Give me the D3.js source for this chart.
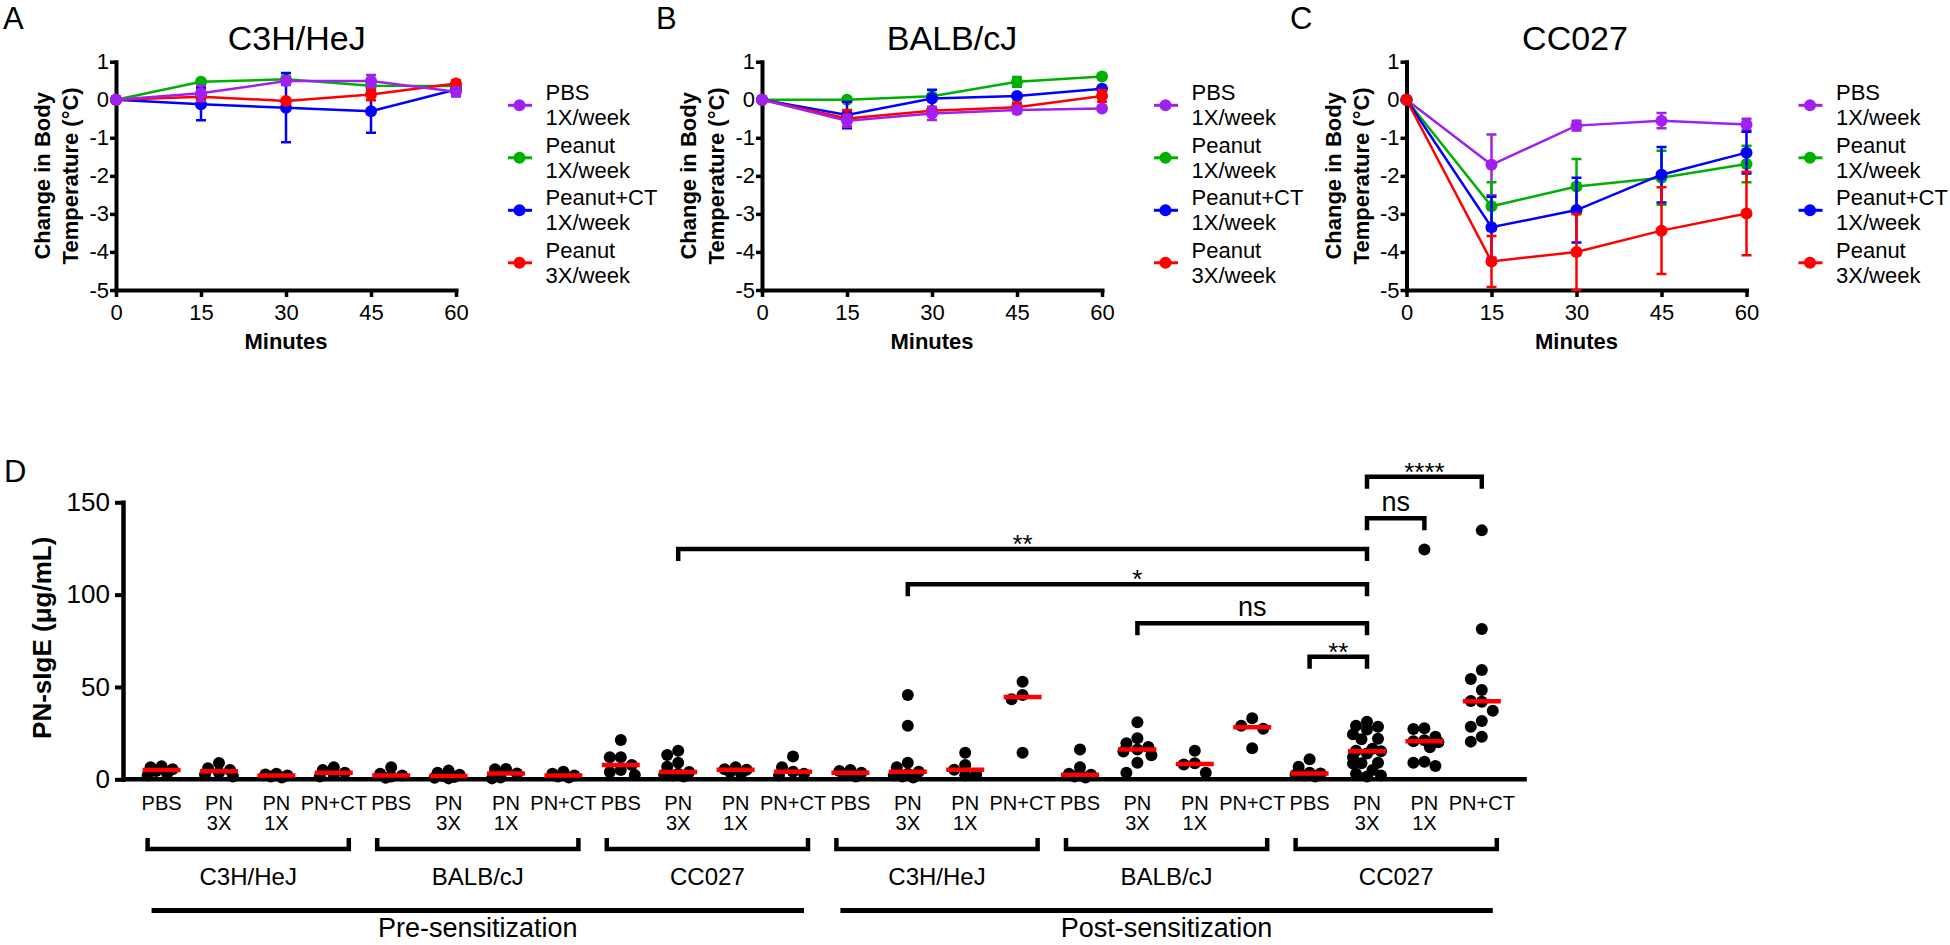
<!DOCTYPE html>
<html><head><meta charset="utf-8">
<script src="https://cdn.jsdelivr.net/npm/d3@7"></script>
<style>
body{margin:0;background:#fff}
svg{display:block}
text{font-family:"Liberation Sans",Arial,sans-serif;fill:#000}
</style>
</head><body>
<svg id="chart" width="1950" height="945"></svg>
<script>
// ---------- Data: body temperature panels ----------
const minutes = [0, 15, 30, 45, 60];
const tempTicks = [1, 0, -1, -2, -3, -4, -5];
const legendLabels = [["PBS", "1X/week"], ["Peanut", "1X/week"], ["Peanut+CT", "1X/week"], ["Peanut", "3X/week"]];
const seriesColors = ["#a020f0", "#00b000", "#0000ff", "#ff0000"];

// C3H/HeJ
const c3hPBS = [0, 0.17, 0.49, 0.49, 0.21];
const c3hPBSErr = [0, 0.20, 0.10, 0.16, 0.10];
const c3hPN1 = [0, 0.47, 0.54, 0.37, 0.36];
const c3hPN1Err = [0, 0.05, 0.06, 0.05, 0.10];
const c3hCT = [0, -0.12, -0.21, -0.30, 0.27];
const c3hCTErr = [0, 0.42, 0.91, 0.57, 0.18];
const c3hPN3 = [0, 0.08, -0.03, 0.14, 0.43];
const c3hPN3Err = [0, 0.08, 0.05, 0.15, 0.08];

// BALB/cJ
const balbPBS = [0, -0.55, -0.36, -0.27, -0.23];
const balbPBSErr = [0, 0.15, 0.17, 0.08, 0.05];
const balbPN1 = [0, 0.00, 0.09, 0.47, 0.61];
const balbPN1Err = [0, 0.03, 0.03, 0.13, 0.04];
const balbCT = [0, -0.40, 0.03, 0.10, 0.29];
const balbCTErr = [0, 0.35, 0.23, 0.05, 0.05];
const balbPN3 = [0, -0.49, -0.29, -0.20, 0.10];
const balbPN3Err = [0, 0.22, 0.10, 0.12, 0.15];

// CC027
const ccPBS = [0, -1.71, -0.68, -0.55, -0.65];
const ccPBSErr = [0, 0.80, 0.13, 0.20, 0.15];
const ccPN1 = [0, -2.80, -2.28, -2.05, -1.69];
const ccPN1Err = [0, 0.63, 0.72, 0.71, 0.48];
const ccCT = [0, -3.35, -2.90, -1.97, -1.39];
const ccCTErr = [0, 0.80, 0.85, 0.73, 0.55];
const ccPN3 = [0, -4.25, -4.00, -3.44, -2.99];
const ccPN3Err = [0, 0.67, 1.00, 1.14, 1.10];

// ---------- Data: PN-sIgE panel ----------
const treatmentLabels = [["PBS"], ["PN", "3X"], ["PN", "1X"], ["PN+CT"]];
const strainLabels = ["C3H/HeJ", "BALB/cJ", "CC027"];
const phaseLabels = ["Pre-sensitization", "Post-sensitization"];
const igeTicks = [0, 50, 100, 150];

const preC3H = [[7, 6.5, 5.5, 4.5, 3, 2], [8.8, 6, 5, 3.6, 2.5, 1.5], [3, 2.6, 2, 1.5, 1], [6.5, 5, 3.6, 2.5, 1.5]];
const preBALB = [[6.5, 3, 2.1, 1.5, 0.8], [4.7, 3.5, 2.5, 1.8, 1.2, 0.8, 0.5], [5.6, 5.4, 3.2, 1, 0.5], [4.1, 3, 2.1, 1.5, 1]];
const preCC027 = [[21.3, 11.9, 11.9, 7.7, 5, 4, 2.3], [15.5, 13.2, 9, 6.8, 4, 3, 2.5, 2, 1.5], [6.5, 5.4, 5.2, 4, 3], [12.3, 6.5, 4.1, 3, 2]];
const postC3H = [[5, 4.5, 3.6, 2.5, 1.5], [45.6, 29, 9, 6.5, 4.1, 3, 2, 1.5, 1], [14.4, 7.7, 5.2, 2.5, 2], [52.8, 45.6, 43.4, 14.4]];
const postBALB = [[16.2, 6.5, 3, 2.5, 2, 1.5, 1], [30.9, 22.2, 19.5, 17.5, 16.2, 15, 13, 9, 3.6], [15.5, 8.7, 8, 3.6], [33, 29, 27.4, 16.8]];
const postCC027 = [[10.8, 6.8, 3.5, 3.2, 2.5, 2, 1.5],
  [31.2, 29, 28.5, 27, 24.4, 22, 21.7, 16.6, 15.5, 15.2, 14, 12, 9, 8.7, 8.5, 5, 3, 2, 1.5],
  [124.5, 27.6, 27.3, 23, 21.2, 20.6, 20, 17.3, 9.5, 9, 7.2],
  [134.8, 81.4, 59.2, 54.3, 48.3, 42.4, 42, 37.1, 31.6, 28.5, 23, 20.4]];

const sigFrom = [9, 13, 17, 20, 21, 21];
const sigTo = [21, 21, 21, 21, 22, 23];
const sigLabels = ["**", "*", "ns", "**", "ns", "****"];
const sigLevels = [124.7, 105.6, 84.5, 66.4, 141.3, 163.8];

// ---------- Drawing ----------
const svg = d3.select("#chart");
svg.append("rect").attr("width", 1950).attr("height", 945).attr("fill", "#fff");

const panels = [
  {letter: "A", letterX: 3, title: "C3H/HeJ", titleX: 296.7, axisX: 116,
   means: [c3hPBS, c3hPN1, c3hCT, c3hPN3], errs: [c3hPBSErr, c3hPN1Err, c3hCTErr, c3hPN3Err], order: [1, 2, 3, 0]},
  {letter: "B", letterX: 656, title: "BALB/cJ", titleX: 952, axisX: 762,
   means: [balbPBS, balbPN1, balbCT, balbPN3], errs: [balbPBSErr, balbPN1Err, balbCTErr, balbPN3Err], order: [1, 2, 3, 0]},
  {letter: "C", letterX: 1290, title: "CC027", titleX: 1575, axisX: 1406.5,
   means: [ccPBS, ccPN1, ccCT, ccPN3], errs: [ccPBSErr, ccPN1Err, ccCTErr, ccPN3Err], order: [0, 1, 2, 3]}
];

const yT = d3.scaleLinear().domain([-5, 1]).range([290, 61.7]);

panels.forEach(p => {
  const g = svg.append("g");
  const x = d3.scaleLinear().domain([0, 60]).range([p.axisX, p.axisX + 340]);

  g.append("text").attr("x", p.letterX).attr("y", 29).attr("font-size", 31).text(p.letter);
  g.append("text").attr("x", p.titleX).attr("y", 50).attr("text-anchor", "middle").attr("font-size", 34).text(p.title);

  // axes
  const ax = g.append("g").attr("transform", `translate(0,${yT(-5)})`)
    .call(d3.axisBottom(x).tickValues(minutes).tickSize(7).tickSizeOuter(0).tickFormat(d => String(d)));
  ax.selectAll("text").attr("y", 30).attr("dy", null).attr("font-size", 22).attr("font-family", null);
  const ay = g.append("g").attr("transform", `translate(${p.axisX},0)`)
    .call(d3.axisLeft(yT).tickValues(tempTicks).tickSize(6).tickPadding(1).tickSizeOuter(0).tickFormat(d => String(d)));
  ay.selectAll("text").attr("font-size", 22).attr("font-family", null);
  [ax, ay].forEach(a => {
    a.select(".domain").attr("stroke", "#000").attr("stroke-width", 4).attr("stroke-linecap", "square");
    a.selectAll(".tick line").attr("stroke", "#000").attr("stroke-width", 3.5);
  });

  g.append("text").attr("x", (x(0) + x(60)) / 2).attr("y", 349).attr("text-anchor", "middle")
    .attr("font-size", 22).attr("font-weight", "bold").text("Minutes");
  const cy = (yT(1) + yT(-5)) / 2;
  [["Change in Body", -66], ["Temperature (°C)", -38]].forEach(([t, off]) => {
    g.append("text").attr("transform", `translate(${p.axisX + off},${cy}) rotate(-90)`)
      .attr("text-anchor", "middle").attr("font-size", 22).attr("font-weight", "bold").text(t);
  });

  // series
  const line = d3.line().x((d, i) => x(minutes[i])).y(d => yT(d));
  p.order.forEach(si => {
    const col = seriesColors[si];
    const sg = g.append("g");
    const m = p.means[si], e = p.errs[si];
    sg.append("path").datum(m).attr("d", line).attr("fill", "none").attr("stroke", col).attr("stroke-width", 2.5);
    minutes.forEach((t, i) => {
      if (e[i] > 0) {
        const xx = x(t), y1 = yT(m[i] + e[i]), y2 = yT(m[i] - e[i]);
        sg.append("path").attr("d", `M${xx},${y1}V${y2}M${xx - 5},${y1}H${xx + 5}M${xx - 5},${y2}H${xx + 5}`)
          .attr("stroke", col).attr("stroke-width", 2.5).attr("fill", "none");
      }
    });
    sg.selectAll("circle").data(m).join("circle")
      .attr("cx", (d, i) => x(minutes[i])).attr("cy", d => yT(d)).attr("r", 6).attr("fill", col);
  });

  // legend
  legendLabels.forEach((lab, i) => {
    const lg = g.append("g").attr("transform", `translate(${p.axisX + 403.5},${105.3 + 52.5 * i})`);
    lg.append("line").attr("x1", -11.5).attr("x2", 12.5).attr("stroke", seriesColors[i]).attr("stroke-width", 3);
    lg.append("circle").attr("r", 6).attr("fill", seriesColors[i]);
    lg.append("text").attr("x", 26).attr("y", -5).attr("font-size", 22).text(lab[0]);
    lg.append("text").attr("x", 26).attr("y", 20).attr("font-size", 22).text(lab[1]);
  });
});

// ---------- Panel D ----------
const groups = [...preC3H, ...preBALB, ...preCC027, ...postC3H, ...postBALB, ...postCC027];
const yD = d3.scaleLinear().domain([0, 150]).range([779.3, 502.3]);
const xD = d3.scalePoint().domain(d3.range(groups.length)).range([161.6, 1481.8]);
const gD = svg.append("g");

gD.append("text").attr("x", 4).attr("y", 482).attr("font-size", 31).text("D");

const ayD = gD.append("g").attr("transform", "translate(123,0)")
  .call(d3.axisLeft(yD).tickValues(igeTicks).tickSize(8).tickPadding(5).tickSizeOuter(0));
ayD.selectAll("text").attr("font-size", 26).attr("font-family", null);
ayD.select(".domain").attr("stroke", "#000").attr("stroke-width", 4.5).attr("stroke-linecap", "square");
ayD.selectAll(".tick line").attr("stroke", "#000").attr("stroke-width", 4);
gD.append("line").attr("x1", 123).attr("x2", xD(groups.length - 1) + 45)
  .attr("y1", yD(0)).attr("y2", yD(0)).attr("stroke", "#000").attr("stroke-width", 4.5);

gD.append("text").attr("transform", `translate(51,${(yD(0) + yD(150)) / 2 - 3}) rotate(-90)`)
  .attr("text-anchor", "middle").attr("font-size", 26).attr("font-weight", "bold").text("PN-sIgE (μg/mL)");

function dodge(values, r) {
  const pts = values.map(v => ({v, y: yD(v), dx: 0})).sort((a, b) => b.v - a.v);
  const cands = [0, -11, 11, -5.5, 5.5, -14, 14];
  const placed = [];
  pts.forEach(p => {
    let best = 0, bestScore = -1;
    for (const c of cands) {
      let m = Infinity;
      placed.forEach(q => { m = Math.min(m, Math.hypot(c - q.dx, p.y - q.y)); });
      if (m >= 2 * r - 1) { best = c; break; }
      if (m > bestScore) { bestScore = m; best = c; }
    }
    p.dx = best;
    placed.push(p);
  });
  return pts;
}

groups.forEach((vals, i) => {
  const cx = xD(i);
  const pts = dodge(vals, 6);
  gD.append("g").selectAll("circle").data(pts).join("circle")
    .attr("cx", d => cx + d.dx).attr("cy", d => d.y).attr("r", 6).attr("fill", "#000");
  const med = d3.median(vals);
  gD.append("line").attr("x1", cx - 19).attr("x2", cx + 19).attr("y1", yD(med)).attr("y2", yD(med))
    .attr("stroke", "#ff0000").attr("stroke-width", 4.5);
  const lab = treatmentLabels[i % 4];
  lab.forEach((t, k) => {
    gD.append("text").attr("x", cx).attr("y", 810 + 20 * k).attr("text-anchor", "middle")
      .attr("font-size", 20).text(t);
  });
});

// strain brackets
d3.range(6).forEach(s => {
  const x1 = xD(4 * s) - 14, x2 = xD(4 * s + 3) + 15;
  gD.append("path").attr("d", `M${x1},838V849H${x2}V838`).attr("fill", "none")
    .attr("stroke", "#000").attr("stroke-width", 4.5);
  gD.append("text").attr("x", (x1 + x2) / 2).attr("y", 885).attr("text-anchor", "middle")
    .attr("font-size", 24).text(strainLabels[s % 3]);
});

// phase lines
phaseLabels.forEach((t, ph) => {
  const x1 = xD(12 * ph) - 10, x2 = xD(12 * ph + 11) + 11;
  gD.append("line").attr("x1", x1).attr("x2", x2).attr("y1", 910.5).attr("y2", 910.5)
    .attr("stroke", "#000").attr("stroke-width", 5);
  gD.append("text").attr("x", (x1 + x2) / 2).attr("y", 937).attr("text-anchor", "middle")
    .attr("font-size", 27).text(t);
});

// significance brackets
sigLabels.forEach((lab, k) => {
  const x1 = xD(sigFrom[k]), x2 = xD(sigTo[k]), y = yD(sigLevels[k]);
  gD.append("path").attr("d", `M${x1},${y + 12}V${y}H${x2}V${y + 12}`).attr("fill", "none")
    .attr("stroke", "#000").attr("stroke-width", 4.5);
  const isStar = lab.includes("*");
  gD.append("text").attr("x", (x1 + x2) / 2).attr("y", isStar ? y + 4 : y - 7)
    .attr("text-anchor", "middle").attr("font-size", isStar ? 26 : 27).text(lab);
});
</script>
</body></html>
